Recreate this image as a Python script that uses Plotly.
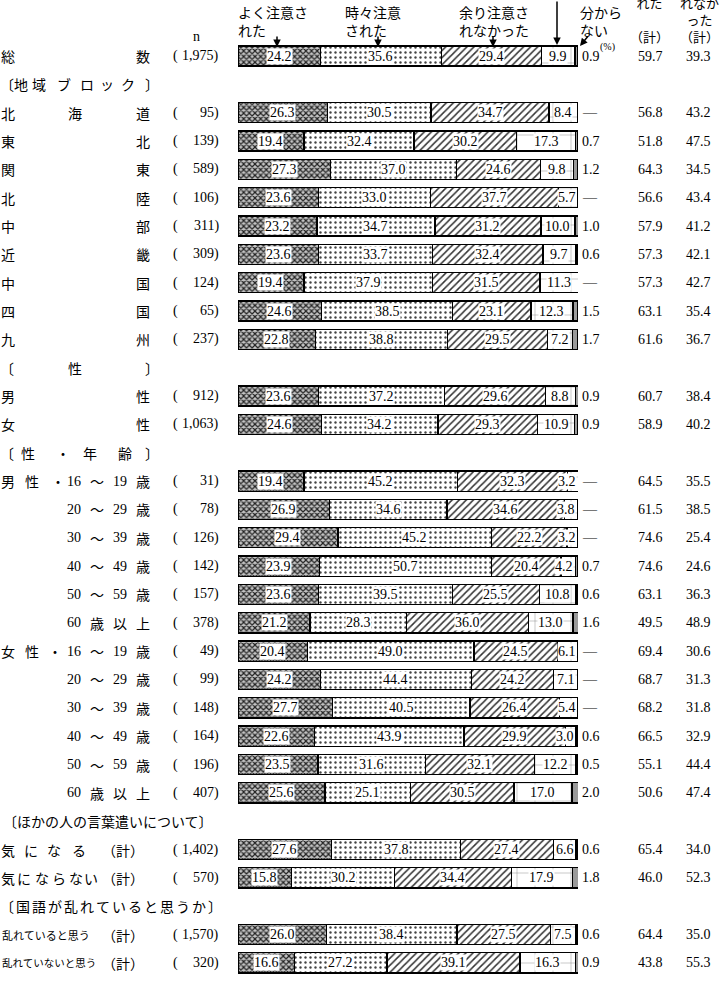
import plotly.graph_objects as go

# ---------------- data ----------------
categories = ["総数", "北海道", "東北", "関東", "北陸", "中部", "近畿", "中国", "四国", "九州",
              "男性", "女性",
              "男性16-19歳", "男性20-29歳", "男性30-39歳", "男性40-49歳", "男性50-59歳", "男性60歳以上",
              "女性16-19歳", "女性20-29歳", "女性30-39歳", "女性40-49歳", "女性50-59歳", "女性60歳以上",
              "気になる（計）", "気にならない（計）", "乱れていると思う（計）", "乱れていないと思う（計）"]
n_values = ["1,975", "95", "139", "589", "106", "311", "309", "124", "65", "237",
            "912", "1,063",
            "31", "78", "126", "142", "157", "378",
            "49", "99", "148", "164", "196", "407",
            "1,402", "570", "1,570", "320"]
yoku = [24.2, 26.3, 19.4, 27.3, 23.6, 23.2, 23.6, 19.4, 24.6, 22.8,
        23.6, 24.6,
        19.4, 26.9, 29.4, 23.9, 23.6, 21.2,
        20.4, 24.2, 27.7, 22.6, 23.5, 25.6,
        27.6, 15.8, 26.0, 16.6]
tokidoki = [35.6, 30.5, 32.4, 37.0, 33.0, 34.7, 33.7, 37.9, 38.5, 38.8,
            37.2, 34.2,
            45.2, 34.6, 45.2, 50.7, 39.5, 28.3,
            49.0, 44.4, 40.5, 43.9, 31.6, 25.1,
            37.8, 30.2, 38.4, 27.2]
amari = [29.4, 34.7, 30.2, 24.6, 37.7, 31.2, 32.4, 31.5, 23.1, 29.5,
         29.6, 29.3,
         32.3, 34.6, 22.2, 20.4, 25.5, 36.0,
         24.5, 24.2, 26.4, 29.9, 32.1, 30.5,
         27.4, 34.4, 27.5, 39.1]
mattaku = [9.9, 8.4, 17.3, 9.8, 5.7, 10.0, 9.7, 11.3, 12.3, 7.2,
           8.8, 10.9,
           3.2, 3.8, 3.2, 4.2, 10.8, 13.0,
           6.1, 7.1, 5.4, 3.0, 12.2, 17.0,
           6.6, 17.9, 7.5, 16.3]
wakaranai = [0.9, None, 0.7, 1.2, None, 1.0, 0.6, None, 1.5, 1.7,
             0.9, 0.9,
             None, None, None, 0.7, 0.6, 1.6,
             None, None, None, 0.6, 0.5, 2.0,
             0.6, 1.8, 0.6, 0.9]
chuui_kei = [59.7, 56.8, 51.8, 64.3, 56.6, 57.9, 57.3, 57.3, 63.1, 61.6,
             60.7, 58.9,
             64.5, 61.5, 74.6, 74.6, 63.1, 49.5,
             69.4, 68.7, 68.2, 66.5, 55.1, 50.6,
             65.4, 46.0, 64.4, 43.8]
nashi_kei = [39.3, 43.2, 47.5, 34.5, 43.4, 41.2, 42.1, 42.7, 35.4, 36.7,
             38.4, 40.2,
             35.5, 38.5, 25.4, 24.6, 36.3, 48.9,
             30.6, 31.3, 31.8, 32.9, 44.4, 47.4,
             34.0, 52.3, 35.0, 55.3]
series_names = ["よく注意された", "時々注意された", "余り注意されなかった", "全く注意されなかった", "分からない"]

# ---------------- layout helpers ----------------
W, H = 720, 982
L, R = 238, 578
ROW0, PITCH = 56, 28.34
NROWS = 33
header_rows = [1, 11, 14, 27, 30]
data_rows = [r for r in range(NROWS) if r not in header_rows]

def px_x(p):
    return (p - L) / (R - L)

def px_y(p):
    return 1 - p / H

NUM = "Liberation Serif, Noto Sans CJK JP"
JP = "Noto Sans CJK JP"

age_tok = lambda a, b: [(a, 74), ("～", 97), (b, 120), ("歳", 143)]
old_tok = [("60", 74), ("歳", 97), ("以", 120), ("上", 143)]
label_tokens = [
    [("総", 8), ("数", 143)],
    [("北", 8), ("海", 75), ("道", 143)],
    [("東", 8), ("北", 143)], [("関", 8), ("東", 143)], [("北", 8), ("陸", 143)],
    [("中", 8), ("部", 143)], [("近", 8), ("畿", 143)], [("中", 8), ("国", 143)],
    [("四", 8), ("国", 143)], [("九", 8), ("州", 143)],
    [("男", 8), ("性", 143)], [("女", 8), ("性", 143)],
    [("男", 8), ("性", 32), ("・", 58)] + age_tok("16", "19"),
    age_tok("20", "29"), age_tok("30", "39"), age_tok("40", "49"), age_tok("50", "59"), old_tok,
    [("女", 8), ("性", 32), ("・", 55)] + age_tok("16", "19"),
    age_tok("20", "29"), age_tok("30", "39"), age_tok("40", "49"), age_tok("50", "59"), old_tok,
    [("気", 8), ("に", 31), ("な", 54), ("る", 79), ("（計）", 123)],
    [("気", 8), ("に", 24), ("な", 42), ("ら", 59), ("な", 76), ("い", 91), ("（計）", 123)],
    [("（計）", 123)],
    [("（計）", 123)],
]
header_tokens = {
    1: [("〔", 7), ("地", 21), ("域", 39), ("ブ", 64), ("ロ", 87), ("ッ", 107), ("ク", 128), ("〕", 152)],
    11: [("〔", 7), ("性", 75), ("〕", 152)],
    14: [("〔", 7), ("性", 28), ("・", 63), ("年", 90), ("齢", 125), ("〕", 152)],
    30: [(c, 7 + 16.0 * i) for i, c in enumerate("〔国語が乱れていると思うか〕")],
}

fig = go.Figure()

styles = [
    dict(color="#bbbbbb", pattern=dict(shape="x", fgcolor="#222222", bgcolor="#c4c4c4", size=4, solidity=0.5, fillmode="replace")),
    dict(color="white", pattern=dict(shape=".", fgcolor="#444444", bgcolor="white", size=5, solidity=0.18, fillmode="replace")),
    dict(color="white", pattern=dict(shape="/", fgcolor="#333333", bgcolor="white", size=5, solidity=0.3, fillmode="replace")),
    dict(color="white", pattern=dict(shape="+", fgcolor="#666666", bgcolor="white", size=18, solidity=0.04, fillmode="replace")),
    dict(color="#9a9a9a"),
]
series = [yoku, tokidoki, amari, mattaku, [v if v is not None else 0 for v in wakaranai]]
for name, vals, st in zip(series_names, series, styles):
    fig.add_trace(go.Bar(
        orientation="h", x=vals, y=data_rows, name=name, width=0.71,
        marker=dict(line=dict(color="black", width=1.3), **st),
        hoverinfo="skip", showlegend=False,
    ))

ann = []

def add(text, x, y, xref="paper", yref="paper", size=14, family=JP, anchor="center", yanchor="middle", **kw):
    ann.append(dict(text=text, x=x, y=y, xref=xref, yref=yref, showarrow=False,
                    xanchor=anchor, yanchor=yanchor, font=dict(size=size, family=family, color="black"), **kw))

for i, r in enumerate(data_rows):
    for t, cx in label_tokens[i]:
        add(t, px_x(cx), r, yref="y", family=NUM if t.isdigit() else JP)
    if i == 26:
        add("乱れていると思う", px_x(0), r, yref="y", size=11, anchor="left")
    if i == 27:
        add("乱れていないと思う", px_x(0), r, yref="y", size=10.5, anchor="left")
    add("(", px_x(175), r, yref="y", family=NUM)
    add(n_values[i] + ")", px_x(221), r, yref="y", family=NUM, anchor="right")
    cum = 0
    for k, vals in enumerate([yoku, tokidoki, amari, mattaku]):
        v = vals[i]
        xc = cum + v / 2
        if k == 3:
            xc = min(xc, cum + v - 3.3)
        add(f"{v:.1f}", xc, r, xref="x", yref="y", family=NUM, bgcolor="white", borderpad=0)
        cum += v
    w = wakaranai[i]
    if w is None:
        add("—", px_x(590), r, yref="y", family=NUM)
    else:
        add(f"{w:.1f}", px_x(580), r, yref="y", family=NUM, anchor="left")
    add(f"{chuui_kei[i]:.1f}", px_x(650), r, yref="y", family=NUM)
    add(f"{nashi_kei[i]:.1f}", px_x(698), r, yref="y", family=NUM)

for r, toks in header_tokens.items():
    for t, cx in toks:
        add(t, px_x(cx), r, yref="y")
add("〔ほかの人の言葉遣いについて〕", px_x(1), 27, yref="y", anchor="left")

# top headers (multi-line)
add("よく注意さ<br>れた", px_x(236), px_y(0), anchor="left", yanchor="top", align="left")
add("時々注意<br>された", px_x(343), px_y(0), anchor="left", yanchor="top", align="left")
add("余り注意さ<br>れなかった", px_x(457), px_y(0), anchor="left", yanchor="top", align="left")
add("分から<br>ない", px_x(578), px_y(0), anchor="left", yanchor="top", align="left")
add("(%)", px_x(598), px_y(47), size=10, family=NUM, anchor="left")
add("n", px_x(196), px_y(37), family=NUM)
add("れた<br> <br>（計）", px_x(649), px_y(-9), yanchor="top", size=13)
add("れなか<br>った<br>（計）", px_x(699), px_y(-9), yanchor="top", size=13)

for (tx, ty, ax, ay) in [(277, 47, 0, -12), (378, 47, 0, -12), (493, 47, 0, -12),
                         (557, 45, 0, -46), (580, 46, 9, -11)]:
    ann.append(dict(x=px_x(tx), y=px_y(ty), xref="paper", yref="paper", text="", showarrow=True,
                    ax=ax, ay=ay, arrowhead=2, arrowsize=1, arrowwidth=1.5, arrowcolor="black"))

fig.update_layout(
    width=W, height=H, margin=dict(l=L, r=W - R, t=0, b=0),
    barmode="stack", plot_bgcolor="white", paper_bgcolor="white",
    xaxis=dict(range=[0, 100], visible=False, fixedrange=True),
    yaxis=dict(range=[(H - ROW0) / PITCH, -ROW0 / PITCH], visible=False, fixedrange=True),
    annotations=ann, showlegend=False,
)
fig.write_html("out.html")
